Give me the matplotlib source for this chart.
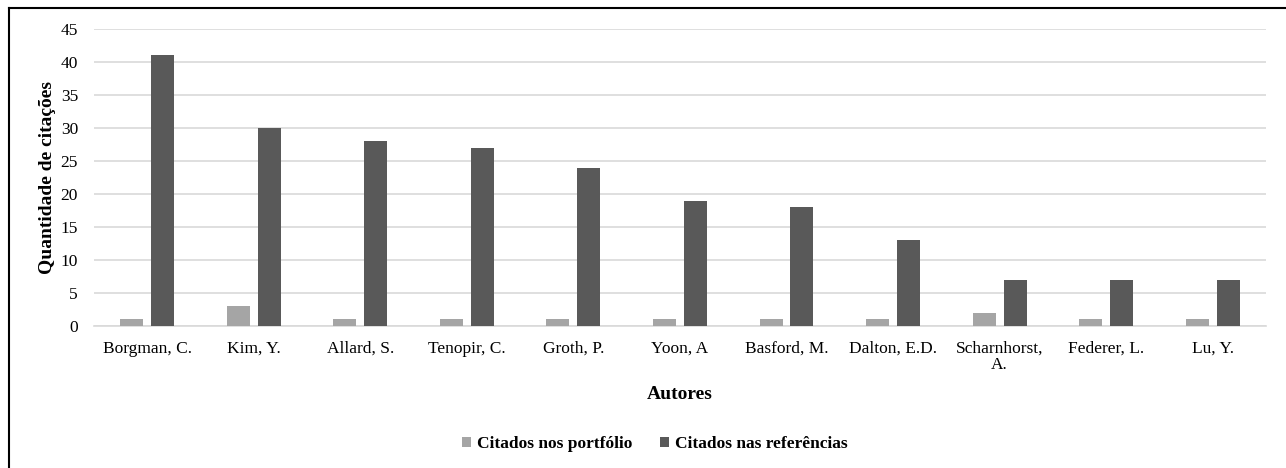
import numpy as np
import matplotlib.pyplot as plt
from matplotlib.lines import Line2D

autores = ["Borgman, C.", "Kim, Y.", "Allard, S.", "Tenopir, C.", "Groth, P.",
           "Yoon, A", "Basford, M.", "Dalton, E.D.", "Scharnhorst,\nA.",
           "Federer, L.", "Lu, Y."]
portfolio = [1, 3, 1, 1, 1, 1, 1, 1, 2, 1, 1]
referencias = [41, 30, 28, 27, 24, 19, 18, 13, 7, 7, 7]

plt.rcParams['font.family'] = ['Liberation Serif', 'DejaVu Serif']

fig = plt.figure(figsize=(12.86, 4.68), dpi=100)
ax = fig.add_axes([0.0731, 0.3034, 0.9113, 0.6346])

x = np.arange(len(autores))
w = 0.216
ax.bar(x - 0.145, portfolio, w, color="#a5a5a5", label="Citados nos portfólio", zorder=3)
ax.bar(x + 0.145, referencias, w, color="#595959", label="Citados nas referências", zorder=3)

ax.set_xlim(-0.5, len(autores) - 0.5)
ax.set_ylim(0, 45)
ax.set_yticks(np.arange(0, 46, 5))
ax.set_xticks(x)
ax.set_xticklabels(autores, fontsize=12.5, linespacing=1.0)
ax.tick_params(axis='y', labelsize=12.5, length=0, pad=11.5)
ax.tick_params(axis='x', length=0, pad=10.5)
ax.grid(axis='y', color="#d9d9d9", lw=1.2, zorder=0)
for s in ["top", "right", "left"]:
    ax.spines[s].set_visible(False)
ax.spines["bottom"].set_color("#d9d9d9")
ax.spines["bottom"].set_linewidth(1.2)

ax.set_ylabel("Quantidade de citações", fontsize=14, fontweight="bold", labelpad=3)
ax.set_xlabel("Autores", fontsize=14, fontweight="bold", labelpad=10)

fig.legend(loc="center", bbox_to_anchor=(0.509, 0.051), ncol=2, frameon=False,
           prop={'weight': 'bold', 'size': 12.5}, handlelength=0.55, handleheight=0.55,
           handletextpad=0.3, columnspacing=1.6)

# chart frame: only top and left edges are visible in the crop
fig.add_artist(Line2D([9 / 1286, 1.0], [1 - 8 / 468, 1 - 8 / 468],
                      transform=fig.transFigure, color="black", lw=1.5))
fig.add_artist(Line2D([9 / 1286, 9 / 1286], [0.0, 1 - 8 / 468],
                      transform=fig.transFigure, color="black", lw=1.5))

fig.savefig("out.png", dpi=100)
